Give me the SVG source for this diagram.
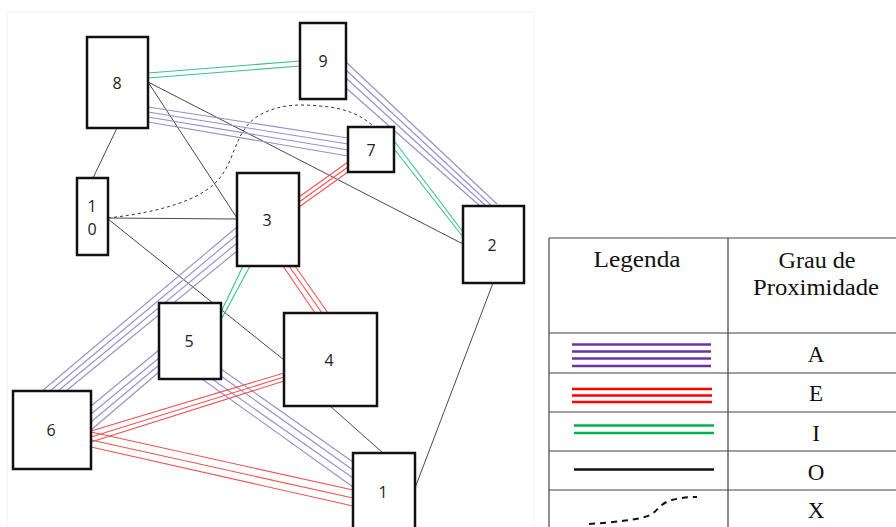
<svg xmlns="http://www.w3.org/2000/svg" width="896" height="527" viewBox="0 0 896 527">
<style>
.node rect{fill:#fff;stroke:#111;stroke-width:2.5}
.lbl{font-family:"Open Sans","Noto Sans",sans-serif;font-size:16px;fill:#222;text-anchor:middle;dominant-baseline:central}
.a{stroke:#9a8ccc;stroke-width:1.1;fill:none}
.e{stroke:#f05252;stroke-width:1.1;fill:none}
.i{stroke:#3cbf8c;stroke-width:1.1;fill:none}
.o{stroke:#4a4a4a;stroke-width:1;fill:none}
.x{stroke:#333;stroke-width:1;stroke-dasharray:3 3;fill:none}
.tb{stroke:#444;stroke-width:1.2;fill:none}
.lt{font-family:"Liberation Serif","Times New Roman",serif;font-size:23px;fill:#111;text-anchor:middle}
.la{stroke:#7030a0;stroke-width:2.5}
.le{stroke:#ff0000;stroke-width:2.5}
.li{stroke:#00b050;stroke-width:2.5}
.lo{stroke:#111;stroke-width:2.5}
.lx{stroke:#111;stroke-width:2;stroke-dasharray:6 5;fill:none}
</style>
<rect x="0" y="0" width="896" height="527" fill="#fff"/>
<rect x="7" y="12" width="527" height="530" fill="none" stroke="#f2f2f2" stroke-width="1"/>
<g id="connectors">
<line class="i" x1="148" y1="73" x2="300" y2="61"/>
<line class="i" x1="148" y1="78" x2="300" y2="66"/>
<line class="o" x1="117" y1="128" x2="93" y2="178"/>
<line class="o" x1="148" y1="82" x2="237" y2="218"/>
<line class="o" x1="148" y1="82" x2="463" y2="244"/>
<line class="a" x1="148" y1="107" x2="348" y2="138"/>
<line class="a" x1="148" y1="112" x2="348" y2="144"/>
<line class="a" x1="148" y1="117" x2="348" y2="150"/>
<line class="a" x1="148" y1="122" x2="348" y2="156"/>
<line class="a" x1="346" y1="62" x2="497" y2="204"/>
<line class="a" x1="346" y1="70" x2="491" y2="205"/>
<line class="a" x1="346" y1="78" x2="486" y2="206"/>
<line class="a" x1="346" y1="88" x2="480" y2="206"/>
<line class="i" x1="395" y1="142" x2="463" y2="232"/>
<line class="i" x1="395" y1="150" x2="463" y2="237"/>
<line class="e" x1="348" y1="162" x2="299" y2="197"/>
<line class="e" x1="348" y1="167" x2="299" y2="202"/>
<line class="e" x1="348" y1="172" x2="299" y2="207"/>
<path class="x" d="M108,218 C160,212 205,200 222,175 C236,155 236,130 258,116 C278,104 300,104 320,106 C345,108 362,115 374,127"/>
<line class="o" x1="108" y1="218" x2="237" y2="219"/>
<line class="o" x1="108" y1="219" x2="284" y2="360"/>
<line class="e" x1="283" y1="266" x2="315" y2="313"/>
<line class="e" x1="289" y1="266" x2="322" y2="313"/>
<line class="e" x1="295" y1="266" x2="328" y2="313"/>
<line class="i" x1="243" y1="266" x2="221" y2="312"/>
<line class="i" x1="250" y1="266" x2="222" y2="318"/>
<line class="a" x1="237" y1="227" x2="42" y2="391"/>
<line class="a" x1="237" y1="235" x2="50" y2="391"/>
<line class="a" x1="237" y1="243" x2="58" y2="391"/>
<line class="a" x1="237" y1="251" x2="66" y2="391"/>
<line class="a" x1="91" y1="406" x2="159" y2="350"/>
<line class="a" x1="91" y1="414" x2="159" y2="358"/>
<line class="a" x1="91" y1="422" x2="159" y2="365"/>
<line class="a" x1="91" y1="430" x2="159" y2="372"/>
<line class="a" x1="221" y1="369" x2="353" y2="462"/>
<line class="a" x1="221" y1="376" x2="353" y2="470"/>
<line class="a" x1="212" y1="379" x2="353" y2="478"/>
<line class="a" x1="202" y1="379" x2="353" y2="487"/>
<line class="e" x1="284" y1="373" x2="91" y2="431"/>
<line class="e" x1="284" y1="377" x2="91" y2="437"/>
<line class="e" x1="284" y1="381" x2="91" y2="442"/>
<line class="e" x1="91" y1="432" x2="353" y2="490"/>
<line class="e" x1="91" y1="440" x2="353" y2="498"/>
<line class="e" x1="91" y1="447" x2="353" y2="506"/>
<line class="o" x1="330" y1="406" x2="383" y2="453"/>
<line class="o" x1="493" y1="283" x2="415" y2="488"/>
</g>
<g id="n8" class="node"><rect x="87" y="37" width="61" height="91"/><text class="lbl" x="117" y="83">8</text></g>
<g id="n9" class="node"><rect x="300" y="23" width="46" height="76"/><text class="lbl" x="323" y="61">9</text></g>
<g id="n7" class="node"><rect x="348" y="127" width="46" height="45"/><text class="lbl" x="371" y="150">7</text></g>
<g id="n10" class="node"><rect x="77" y="178" width="31" height="77"/><text class="lbl" x="92" y="206">1</text><text class="lbl" x="92" y="229">0</text></g>
<g id="n3" class="node"><rect x="237" y="173" width="62" height="93"/><text class="lbl" x="267" y="220">3</text></g>
<g id="n2" class="node"><rect x="463" y="206" width="61" height="77"/><text class="lbl" x="492" y="245">2</text></g>
<g id="n5" class="node"><rect x="159" y="303" width="62" height="76"/><text class="lbl" x="189" y="341">5</text></g>
<g id="n4" class="node"><rect x="284" y="313" width="93" height="93"/><text class="lbl" x="329" y="360">4</text></g>
<g id="n6" class="node"><rect x="13" y="391" width="78" height="78"/><text class="lbl" x="51" y="430">6</text></g>
<g id="n1" class="node"><rect x="353" y="453" width="62" height="90"/><text class="lbl" x="383" y="492">1</text></g>
<g id="legend">
<line class="tb" x1="549" y1="238" x2="896" y2="238"/>
<line class="tb" x1="549" y1="238" x2="549" y2="527"/>
<line class="tb" x1="728" y1="238" x2="728" y2="527"/>
<line class="tb" x1="549" y1="333" x2="896" y2="333"/>
<line class="tb" x1="549" y1="373" x2="896" y2="373"/>
<line class="tb" x1="549" y1="412" x2="896" y2="412"/>
<line class="tb" x1="549" y1="451" x2="896" y2="451"/>
<line class="tb" x1="549" y1="490" x2="896" y2="490"/>
<text class="lt" x="637" y="267" textLength="87" lengthAdjust="spacingAndGlyphs">Legenda</text>
<text class="lt" x="817" y="268" textLength="77" lengthAdjust="spacingAndGlyphs">Grau de</text>
<text class="lt" x="816" y="295" textLength="126" lengthAdjust="spacingAndGlyphs">Proximidade</text>
<text class="lt" x="816" y="362">A</text>
<text class="lt" x="816" y="401">E</text>
<text class="lt" x="816" y="441">I</text>
<text class="lt" x="816" y="480">O</text>
<text class="lt" x="816" y="518">X</text>
<line class="la" x1="572" y1="344.5" x2="711" y2="344.5"/>
<line class="la" x1="572" y1="351.5" x2="711" y2="351.5"/>
<line class="la" x1="572" y1="358.5" x2="711" y2="358.5"/>
<line class="la" x1="572" y1="366" x2="711" y2="366"/>
<line class="le" x1="572" y1="389" x2="712" y2="389"/>
<line class="le" x1="572" y1="395.5" x2="712" y2="395.5"/>
<line class="le" x1="572" y1="402" x2="712" y2="402"/>
<line class="li" x1="574" y1="425.5" x2="714" y2="425.5"/>
<line class="li" x1="574" y1="433" x2="714" y2="433"/>
<line class="lo" x1="574" y1="469.5" x2="714" y2="469.5"/>
<path class="lx" d="M589,524 C615,522 640,520 650,515 C658,511 660,503 672,500 C680,498 688,497 697,497"/>
</g>
</svg>
